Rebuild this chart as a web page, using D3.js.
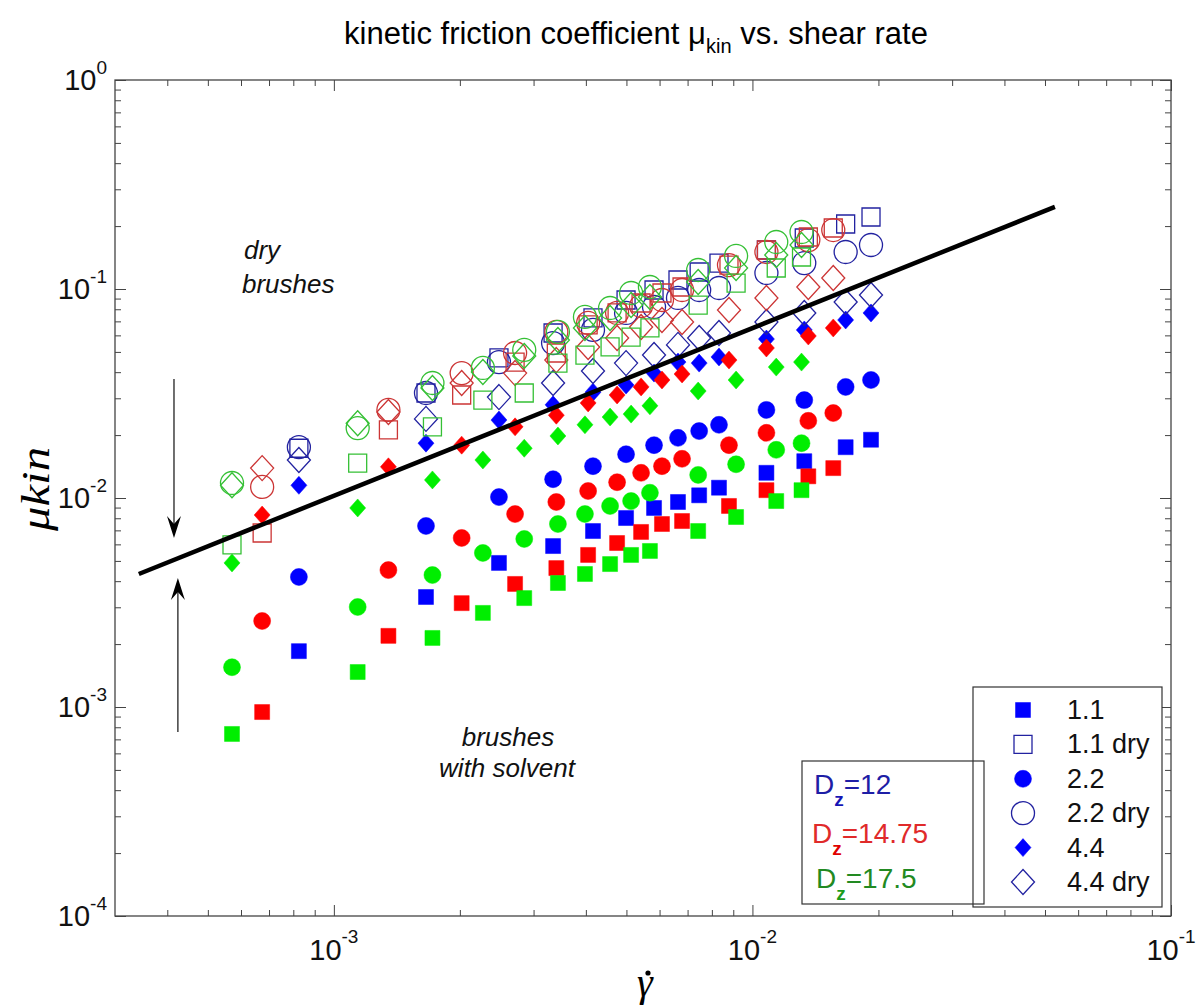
<!DOCTYPE html>
<html>
<head>
<meta charset="utf-8">
<script src="https://cdn.jsdelivr.net/npm/d3@7"></script>
<style>
  body { margin: 0; background: #fff; }
  text { font-family: "Liberation Sans", Arial, sans-serif; }
</style>
</head>
<body>
<svg id="chart" width="1202" height="1008"></svg>
<script>
// shear rates, one set per grafting density
const shearBlue  = [8.25e-4, 1.66e-3, 2.48e-3, 3.34e-3, 4.16e-3, 4.99e-3, 5.82e-3, 6.64e-3, 7.46e-3, 8.32e-3, 0.0108, 0.0133, 0.0167, 0.0192];
const shearRed   = [6.74e-4, 1.35e-3, 2.02e-3, 2.71e-3, 3.40e-3, 4.05e-3, 4.75e-3, 5.42e-3, 6.08e-3, 6.79e-3, 8.79e-3, 0.0108, 0.0136, 0.0156];
const shearGreen = [5.71e-4, 1.14e-3, 1.72e-3, 2.27e-3, 2.85e-3, 3.43e-3, 3.98e-3, 4.57e-3, 5.13e-3, 5.69e-3, 7.42e-3, 9.14e-3, 0.0114, 0.0131];

// D_z = 12 (blue)
const blue11     = [0.00185, 0.00336, 0.00489, 0.00589, 0.00695, 0.00802, 0.00896, 0.00957, 0.0103, 0.0112, 0.0132, 0.0150, 0.0175, 0.0190];
const blue11dry  = [0.0173, 0.0318, 0.0468, 0.0616, 0.0727, 0.0886, 0.0989, 0.1104, 0.1206, 0.1331, 0.1537, 0.1754, 0.2046, 0.2211];
const blue22     = [0.00419, 0.00735, 0.0101, 0.0123, 0.0142, 0.0162, 0.0179, 0.0194, 0.0209, 0.0224, 0.0264, 0.0294, 0.0340, 0.0367];
const blue22dry  = [0.0175, 0.0318, 0.0447, 0.0551, 0.0637, 0.0768, 0.0820, 0.0906, 0.0989, 0.1011, 0.1193, 0.1331, 0.1503, 0.1624];
const blue44     = [0.0115, 0.0183, 0.0236, 0.0279, 0.0321, 0.0347, 0.0396, 0.0447, 0.0442, 0.0473, 0.0576, 0.0637, 0.0711, 0.0768];
const blue44dry  = [0.0152, 0.0239, 0.0304, 0.0355, 0.0405, 0.0442, 0.0483, 0.0540, 0.0583, 0.0616, 0.0695, 0.0768, 0.0867, 0.0936];

// D_z = 14.75 (red)
const red11      = [0.000946, 0.00219, 0.00314, 0.00388, 0.00462, 0.00534, 0.00609, 0.00688, 0.00751, 0.00776, 0.00916, 0.0109, 0.0127, 0.0139];
const red11dry   = [0.00680, 0.0212, 0.0311, 0.0447, 0.0494, 0.0673, 0.0768, 0.0857, 0.0957, 0.1022, 0.1302, 0.1537, 0.1773, 0.1958];
const red22      = [0.00258, 0.00452, 0.00644, 0.00838, 0.00957, 0.0108, 0.0119, 0.0132, 0.0142, 0.0154, 0.0179, 0.0205, 0.0234, 0.0255];
const red22dry   = [0.0113, 0.0264, 0.0396, 0.0494, 0.0623, 0.0688, 0.0768, 0.0829, 0.0886, 0.0989, 0.1302, 0.1503, 0.1715, 0.1915];
const red44      = [0.00829, 0.0141, 0.0179, 0.0219, 0.0249, 0.0285, 0.0311, 0.0340, 0.0367, 0.0392, 0.0457, 0.0522, 0.0596, 0.0651];
const red44dry   = [0.0139, 0.0258, 0.0355, 0.0396, 0.0457, 0.0528, 0.0583, 0.0658, 0.0711, 0.0695, 0.0793, 0.0906, 0.1022, 0.1129];

// D_z = 17.5 (green)
const green11    = [0.000743, 0.00147, 0.00214, 0.00282, 0.00332, 0.00392, 0.00433, 0.00483, 0.00534, 0.00558, 0.00695, 0.00811, 0.00967, 0.0109];
const green11dry = [0.00596, 0.0147, 0.0219, 0.0294, 0.0318, 0.0442, 0.0483, 0.0528, 0.0589, 0.0651, 0.0838, 0.1068, 0.1260, 0.1423];
const green22    = [0.00155, 0.00301, 0.00428, 0.00546, 0.00637, 0.00751, 0.00838, 0.00916, 0.00967, 0.0106, 0.0129, 0.0145, 0.0170, 0.0183];
const green22dry = [0.0118, 0.0216, 0.0355, 0.0419, 0.0511, 0.0623, 0.0735, 0.0811, 0.0957, 0.1022, 0.1233, 0.1439, 0.1678, 0.1874];
const green44    = [0.00489, 0.00896, 0.0122, 0.0152, 0.0173, 0.0198, 0.0224, 0.0244, 0.0252, 0.0276, 0.0325, 0.0367, 0.0423, 0.0447];
const green44dry = [0.0115, 0.0228, 0.0336, 0.0401, 0.0478, 0.0570, 0.0651, 0.0727, 0.0838, 0.0916, 0.1080, 0.1260, 0.1455, 0.1624];

// black guide line
const lineX = [3.42e-4, 0.0528];
const lineY = [4.33e-3, 0.247];

// axes
const xTickExp = [-3, -2, -1];
const yTickExp = [-4, -3, -2, -1, 0];
const legendLabels = ["1.1", "1.1 dry", "2.2", "2.2 dry", "4.4", "4.4 dry"];
const dzLabels = ["12", "14.75", "17.5"];

const L = 115, R = 1171, T = 80, B = 916;

const svg = d3.select("#chart");
const x = d3.scaleLog().domain([3e-4, 1e-1]).range([L, R]);
const y = d3.scaleLog().domain([1e-4, 1]).range([B, T]);

const colors = {
  blue:  { fill: "#0000ff", open: "#2222a0", text: "#1e1ea6", sub: "#1515b5" },
  red:   { fill: "#ff0000", open: "#cc3535", text: "#e02a2a", sub: "#e00000" },
  green: { fill: "#00ee00", open: "#35c035", text: "#228a22", sub: "#1c9c1c" }
};

// marker shapes (path strings around 0,0)
function shapePath(shape, filled) {
  if (shape === "square") {
    const h = filled ? 7.5 : 9;
    return `M${-h},${-h}H${h}V${h}H${-h}Z`;
  }
  if (shape === "circle") {
    const r = filled ? 8.5 : 11.5;
    return `M${r},0A${r},${r} 0 1,1 ${-r},0A${r},${r} 0 1,1 ${r},0Z`;
  }
  const w = filled ? 8 : 11.5, h = filled ? 9 : 12.5;
  return `M0,${-h}L${w},0L0,${h}L${-w},0Z`;
}

const groups = [
  { c: "blue",  xs: shearBlue,  s: [blue11, blue11dry, blue22, blue22dry, blue44, blue44dry] },
  { c: "red",   xs: shearRed,   s: [red11, red11dry, red22, red22dry, red44, red44dry] },
  { c: "green", xs: shearGreen, s: [green11, green11dry, green22, green22dry, green44, green44dry] }
];
const kinds = [
  { shape: "square", filled: true }, { shape: "square", filled: false },
  { shape: "circle", filled: true }, { shape: "circle", filled: false },
  { shape: "diamond", filled: true }, { shape: "diamond", filled: false }
];

const series = [];
groups.forEach(g => g.s.forEach((ys, i) => {
  series.push({ color: g.c, kind: kinds[i], pts: d3.zip(g.xs, ys) });
}));

// ticks
const minorVals = (lo, hi) => {
  const out = [];
  for (let e = Math.floor(Math.log10(lo)); e < Math.ceil(Math.log10(hi)); e++)
    for (let m = 2; m <= 9; m++) { const v = m * Math.pow(10, e); if (v > lo * 1.001 && v < hi * 0.999) out.push(v); }
  return out;
};
const xMajor = xTickExp.map(e => Math.pow(10, e));
const yMajor = yTickExp.map(e => Math.pow(10, e));
const xMinor = minorVals(3e-4, 1e-1);
const yMinor = minorVals(1e-4, 1);

function tickGroup(axis, tx, ty) {
  const g = svg.append("g").attr("transform", `translate(${tx},${ty})`).call(axis);
  g.select(".domain").remove();
  g.selectAll("line").attr("stroke", "#444").attr("stroke-width", 1);
  return g;
}
[[xMajor, 11], [xMinor, 6]].forEach(([vals, len]) => {
  tickGroup(d3.axisBottom(x).tickValues(vals).tickSize(-len).tickFormat(""), 0, B);
  tickGroup(d3.axisTop(x).tickValues(vals).tickSize(-len).tickFormat(""), 0, T);
});
[[yMajor, 11], [yMinor, 6]].forEach(([vals, len]) => {
  tickGroup(d3.axisLeft(y).tickValues(vals).tickSize(-len).tickFormat(""), L, 0);
  tickGroup(d3.axisRight(y).tickValues(vals).tickSize(-len).tickFormat(""), R, 0);
});

svg.append("rect").attr("x", L).attr("y", T).attr("width", R - L).attr("height", B - T)
  .attr("fill", "none").attr("stroke", "#444").attr("stroke-width", 1.3);

// tick labels
xTickExp.forEach(e => {
  const t = svg.append("text").attr("x", x(Math.pow(10, e))).attr("y", B + 44)
    .attr("text-anchor", "middle").attr("font-size", 29).attr("fill", "#111");
  t.append("tspan").text("10");
  t.append("tspan").attr("dy", -17).attr("font-size", 19).text(e);
});
yTickExp.forEach(e => {
  const t = svg.append("text").attr("x", L - 8).attr("y", y(Math.pow(10, e)) + 10)
    .attr("text-anchor", "end").attr("font-size", 29).attr("fill", "#111");
  t.append("tspan").text("10");
  t.append("tspan").attr("dy", -16).attr("font-size", 19).text(e);
});

// title
const title = svg.append("text").attr("x", 636).attr("y", 44).attr("text-anchor", "middle")
  .attr("font-size", 31).attr("fill", "#000");
title.append("tspan").text("kinetic friction coefficient \u03bc");
title.append("tspan").attr("dy", 9).attr("font-size", 20).text("kin");
title.append("tspan").attr("dy", -9).text(" vs. shear rate");

// axis labels
svg.append("text").attr("transform", "translate(49,489) rotate(-90)")
  .attr("text-anchor", "middle").attr("font-size", 40)
  .attr("font-style", "italic").style("font-family", "'Liberation Serif', 'DejaVu Serif', serif")
  .attr("textLength", 84).attr("lengthAdjust", "spacingAndGlyphs")
  .text("\u03bckin");
svg.append("text").attr("x", 645).attr("y", 996).attr("text-anchor", "middle")
  .attr("font-size", 40).attr("font-style", "italic")
  .style("font-family", "'Liberation Serif', 'DejaVu Serif', serif")
  .text("\u03b3");
// the dot over gamma
svg.append("circle").attr("cx", 648).attr("cy", 973).attr("r", 2.6).attr("fill", "#000");

// data markers: filled first, open markers on top
const plot = svg.append("g");
const drawSeries = list => list.forEach(sr => {
  const col = colors[sr.color];
  plot.append("g").selectAll("path")
    .data(sr.pts)
    .join("path")
    .attr("transform", d => `translate(${x(d[0])},${y(d[1])})`)
    .attr("d", shapePath(sr.kind.shape, sr.kind.filled))
    .attr("fill", sr.kind.filled ? col.fill : "none")
    .attr("stroke", sr.kind.filled ? col.fill : col.open)
    .attr("stroke-width", sr.kind.filled ? 0.5 : 1.3);
});
drawSeries(series.filter(s => s.kind.filled));
drawSeries(series.filter(s => !s.kind.filled));

// guide line
svg.append("path")
  .datum(d3.zip(lineX, lineY))
  .attr("d", d3.line().x(d => x(d[0])).y(d => y(d[1])))
  .attr("stroke", "#000").attr("stroke-width", 4.5).attr("fill", "none");

// arrows
function arrow(xv, yFrom, yTo) {
  const px = x(xv), y0 = y(yFrom), y1 = y(yTo);
  const dir = y1 > y0 ? 1 : -1;
  svg.append("line").attr("x1", px).attr("x2", px).attr("y1", y0).attr("y2", y1 - dir * 10)
    .attr("stroke", "#222").attr("stroke-width", 1.3);
  svg.append("path")
    .attr("d", `M${px},${y1}L${px - 7},${y1 - dir * 22}L${px},${y1 - dir * 14}L${px + 7},${y1 - dir * 22}Z`)
    .attr("fill", "#000");
}
arrow(4.15e-4, 0.0371, 0.00644);
arrow(4.24e-4, 7.59e-4, 4.14e-3);

// annotations
const note = (tx, ty, str, anchor) => svg.append("text").attr("x", tx).attr("y", ty)
  .attr("text-anchor", anchor).attr("font-size", 26).attr("font-style", "italic")
  .attr("fill", "#111").text(str);
note(244, 259, "dry", "start");
note(242, 293, "brushes", "start");
note(508, 746, "brushes", "middle");
note(507, 777, "with solvent", "middle");

// legend
const lg = svg.append("g");
lg.append("rect").attr("x", 973).attr("y", 687).attr("width", 189).attr("height", 220)
  .attr("fill", "#fff").attr("stroke", "#333").attr("stroke-width", 1.2);
const rowY = d3.scalePoint().domain(legendLabels).range([710, 882]);
legendLabels.forEach((lab, i) => {
  const k = kinds[i];
  lg.append("path").attr("transform", `translate(1023,${rowY(lab)})`)
    .attr("d", shapePath(k.shape, k.filled))
    .attr("fill", k.filled ? colors.blue.fill : "none")
    .attr("stroke", k.filled ? colors.blue.fill : colors.blue.open)
    .attr("stroke-width", k.filled ? 0.5 : 1.3);
  lg.append("text").attr("x", 1067).attr("y", rowY(lab) + 9)
    .attr("font-size", 27).attr("fill", "#111").text(lab);
});

// D_z box
svg.append("rect").attr("x", 802).attr("y", 761).attr("width", 182).attr("height", 143)
  .attr("fill", "none").attr("stroke", "#333").attr("stroke-width", 1.2);
const dzColors = ["blue", "red", "green"];
const dzPos = [[814, 794], [812, 843], [816, 888]];
dzLabels.forEach((lab, i) => {
  const col = colors[dzColors[i]];
  const t = svg.append("text").attr("x", dzPos[i][0]).attr("y", dzPos[i][1])
    .attr("font-size", 28).attr("fill", col.text);
  t.append("tspan").text("D");
  t.append("tspan").attr("dy", 12).attr("font-size", 19).attr("font-weight", "bold")
    .attr("fill", col.sub).text("z");
  t.append("tspan").attr("dy", -12).text("=" + lab);
});
</script>
</body>
</html>
